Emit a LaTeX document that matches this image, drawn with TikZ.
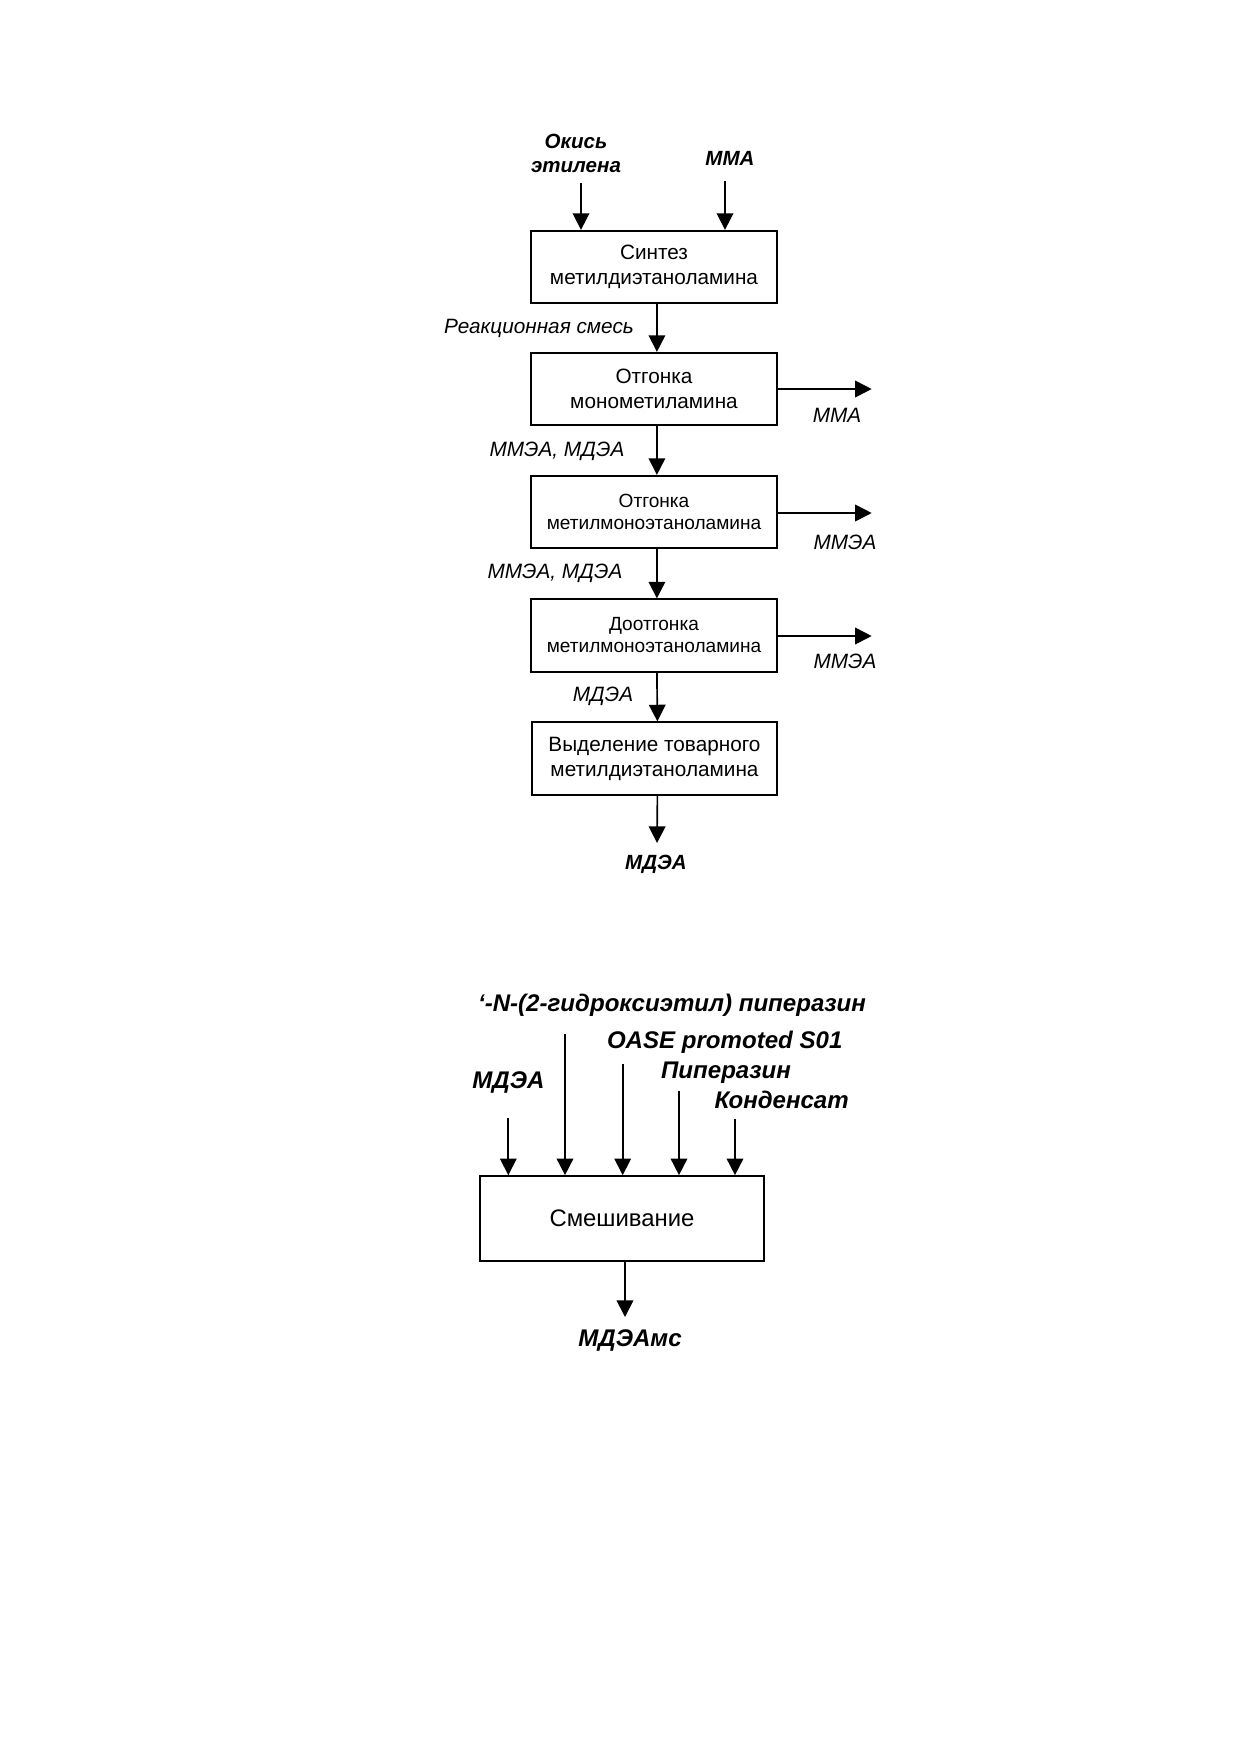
\documentclass[tikz,border=0pt]{standalone}
\usepackage{fontspec}
\setmainfont{Liberation Sans}
\usetikzlibrary{arrows.meta}
\tikzset{
  box/.style={draw, line width=0.8pt, minimum width=4.16cm, minimum height=1.23cm, align=center, inner sep=1pt, font=\fontsize{10}{12}\selectfont},
  boxs/.style={box, font=\fontsize{9.2}{10.6}\selectfont},
  lbl/.style={anchor=base, inner sep=0pt, font=\fontsize{10}{11}\selectfont\itshape},
  blbl/.style={anchor=base, inner sep=0pt, align=center, font=\fontsize{9.9}{11.3}\selectfont\bfseries\itshape},
  bigl/.style={anchor=base, inner sep=0pt, font=\fontsize{11.6}{13}\selectfont\bfseries\itshape},
  arr/.style={line width=0.8pt, -{Triangle[width=8pt,length=8pt]}}
}
\begin{document}
\begin{tikzpicture}[x=0.016935cm, y=-0.016933cm]
\useasboundingbox (0,0) rectangle (1240,1754);
% ---------- top scheme ----------
\node[box] (b1) at (654,267) {Синтез\\метилдиэтаноламина};
\node[box] (b2) at (654,389) {Отгонка\\монометиламина};
\node[boxs] (b3) at (654,512) {Отгонка\\метилмоноэтаноламина};
\node[boxs] (b4) at (654,635.5) {Доотгонка\\метилмоноэтаноламина};
\node[box] (b5) at (654.5,758.5) {Выделение товарного\\метилдиэтаноламина};

\node[blbl] (oe) at (576,148.3) {Окись};
\node[blbl] (oe2) at (576,172.3) {этилена};
\node[blbl] (mma) at (730,165) {ММА};
\coordinate (i1) at (581,183);
\coordinate (i2) at (725,181);
\draw[arr] (i1) -- (i1 |- b1.north);
\draw[arr] (i2) -- (i2 |- b1.north);

\draw[arr] ([xshift=1.4pt]b1.south) -- ([xshift=1.4pt]b2.north);
\draw[arr] ([xshift=1.4pt]b2.south) -- ([xshift=1.4pt]b3.north);
\draw[arr] ([xshift=1.4pt]b3.south) -- ([xshift=1.4pt]b4.north);
\draw[arr] ([xshift=1.4pt]b4.south) -- ([xshift=1.4pt]b5.north);
\coordinate (out5) at (657,843);
\draw[arr] ([xshift=1.4pt]b5.south) -- (out5);

\node[lbl] (l1) at (539,333.3) {Реакционная смесь};
\node[lbl] (l2) at (557,456.7) {ММЭА, МДЭА};
\node[lbl] (l3) at (555,578.3) {ММЭА, МДЭА};
\node[lbl] (l4) at (603,701.7) {МДЭА};
\node[blbl] (mdea) at (656,869.3) {МДЭА};

\coordinate (o2) at (871.7,389);
\coordinate (o3) at (871.7,513);
\coordinate (o4) at (871.7,636);
\draw[arr] (b2.east |- o2) -- (o2);
\draw[arr] (b3.east |- o3) -- (o3);
\draw[arr] (b4.east |- o4) -- (o4);
\node[lbl] (r2) at (837,422.3) {ММА};
\node[lbl] (r3) at (845,549) {ММЭА};
\node[lbl] (r4) at (845,668.3) {ММЭА};

% ---------- bottom scheme ----------
\node[draw, line width=0.8pt, minimum width=4.81cm, minimum height=1.44cm, font=\fontsize{11.5}{13}\selectfont] (mix) at (622,1218.5) {Смешивание};
\node[bigl] (t1) at (672,1011.7) {\char96-N-(2-гидроксиэтил) пиперазин};
\node[bigl] (t2) at (724.7,1048.3) {OASE promoted S01};
\node[bigl] (t3) at (508.5,1088.3) {МДЭА};
\node[bigl] (t4) at (726,1078.3) {Пиперазин};
\node[bigl] (t5) at (781.7,1108.3) {Конденсат};
\coordinate (j1) at (508.3,1118);
\coordinate (j2) at (565,1034);
\coordinate (j3) at (622.7,1064);
\coordinate (j4) at (679,1091);
\coordinate (j5) at (735,1119);
\foreach \j in {j1,j2,j3,j4,j5} \draw[arr] (\j) -- (\j |- mix.north);
\coordinate (mo) at (625,1317);
\draw[arr] (mo |- mix.south) -- (mo);
\node[bigl] (mdeams) at (630,1346.7) {МДЭАмс};
\end{tikzpicture}
\end{document}
